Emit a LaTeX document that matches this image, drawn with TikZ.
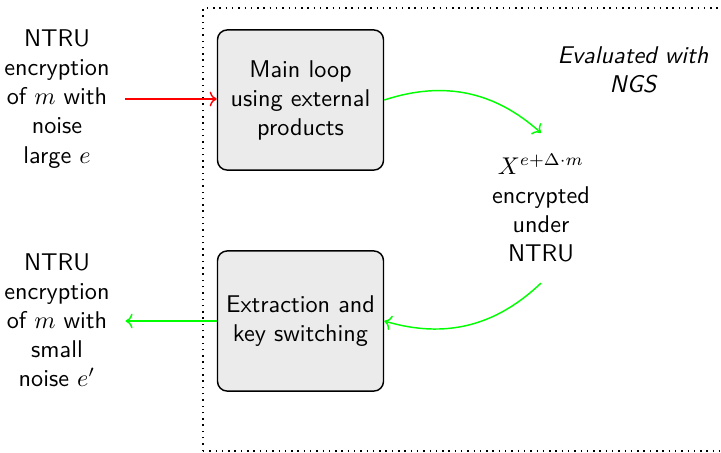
\documentclass[tikz,border=0pt]{standalone}
\usetikzlibrary{arrows.meta}
\begin{document}
\begin{tikzpicture}[
  x=0.4132pt, y=-0.4132pt,
  font=\sffamily,
  every node/.style={align=center},
  sidetext/.style={text width=56.2pt, inner xsep=0pt},
  stagebox/.style={draw, semithick, rounded corners=4pt, fill=black!8,
                   minimum width=68.6pt, minimum height=57.9pt},
  midtext/.style={inner sep=8.5pt},
  inarrow/.style={->, red, semithick},
  outarrow/.style={->, green, semithick}
]
\useasboundingbox (0,0) rectangle (721,452);
\clip (0,0) rectangle (721,452);

% region evaluated with NGS
\draw[dotted, semithick] (203,451) -- (203,8) -- (760,8);
\draw[dotted, semithick] (203,451) -- (760,451);
\node (ngs) at (633,70) {\itshape Evaluated with\\\itshape NGS};

% processing stages
\node[stagebox] (loop) at (300.5,100) {Main loop\\using external\\products};
\node[stagebox] (extract) at (300.5,321) {Extraction and\\key switching};

% input and output ciphertexts
\node[sidetext] (input) at (57,99) {NTRU\\encryption\\of $m$ with\\noise\\large $e$};
\node[sidetext] (output) at (57,320) {NTRU\\encryption\\of $m$ with\\small\\noise $e'$};

% intermediate result
\node[midtext] (mid) at (541,208) {$X^{e+\Delta\cdot m}$\\encrypted\\under\\NTRU};

% data flow
\draw[inarrow] (input.east) -- (input.east -| loop.west);
\draw[outarrow] (loop.east) to[bend left=30] (mid.north);
\draw[outarrow] (mid.south) to[bend left=30] (extract.east);
\draw[outarrow] (extract.west) -- (extract.west -| output.east);
\end{tikzpicture}
\end{document}
